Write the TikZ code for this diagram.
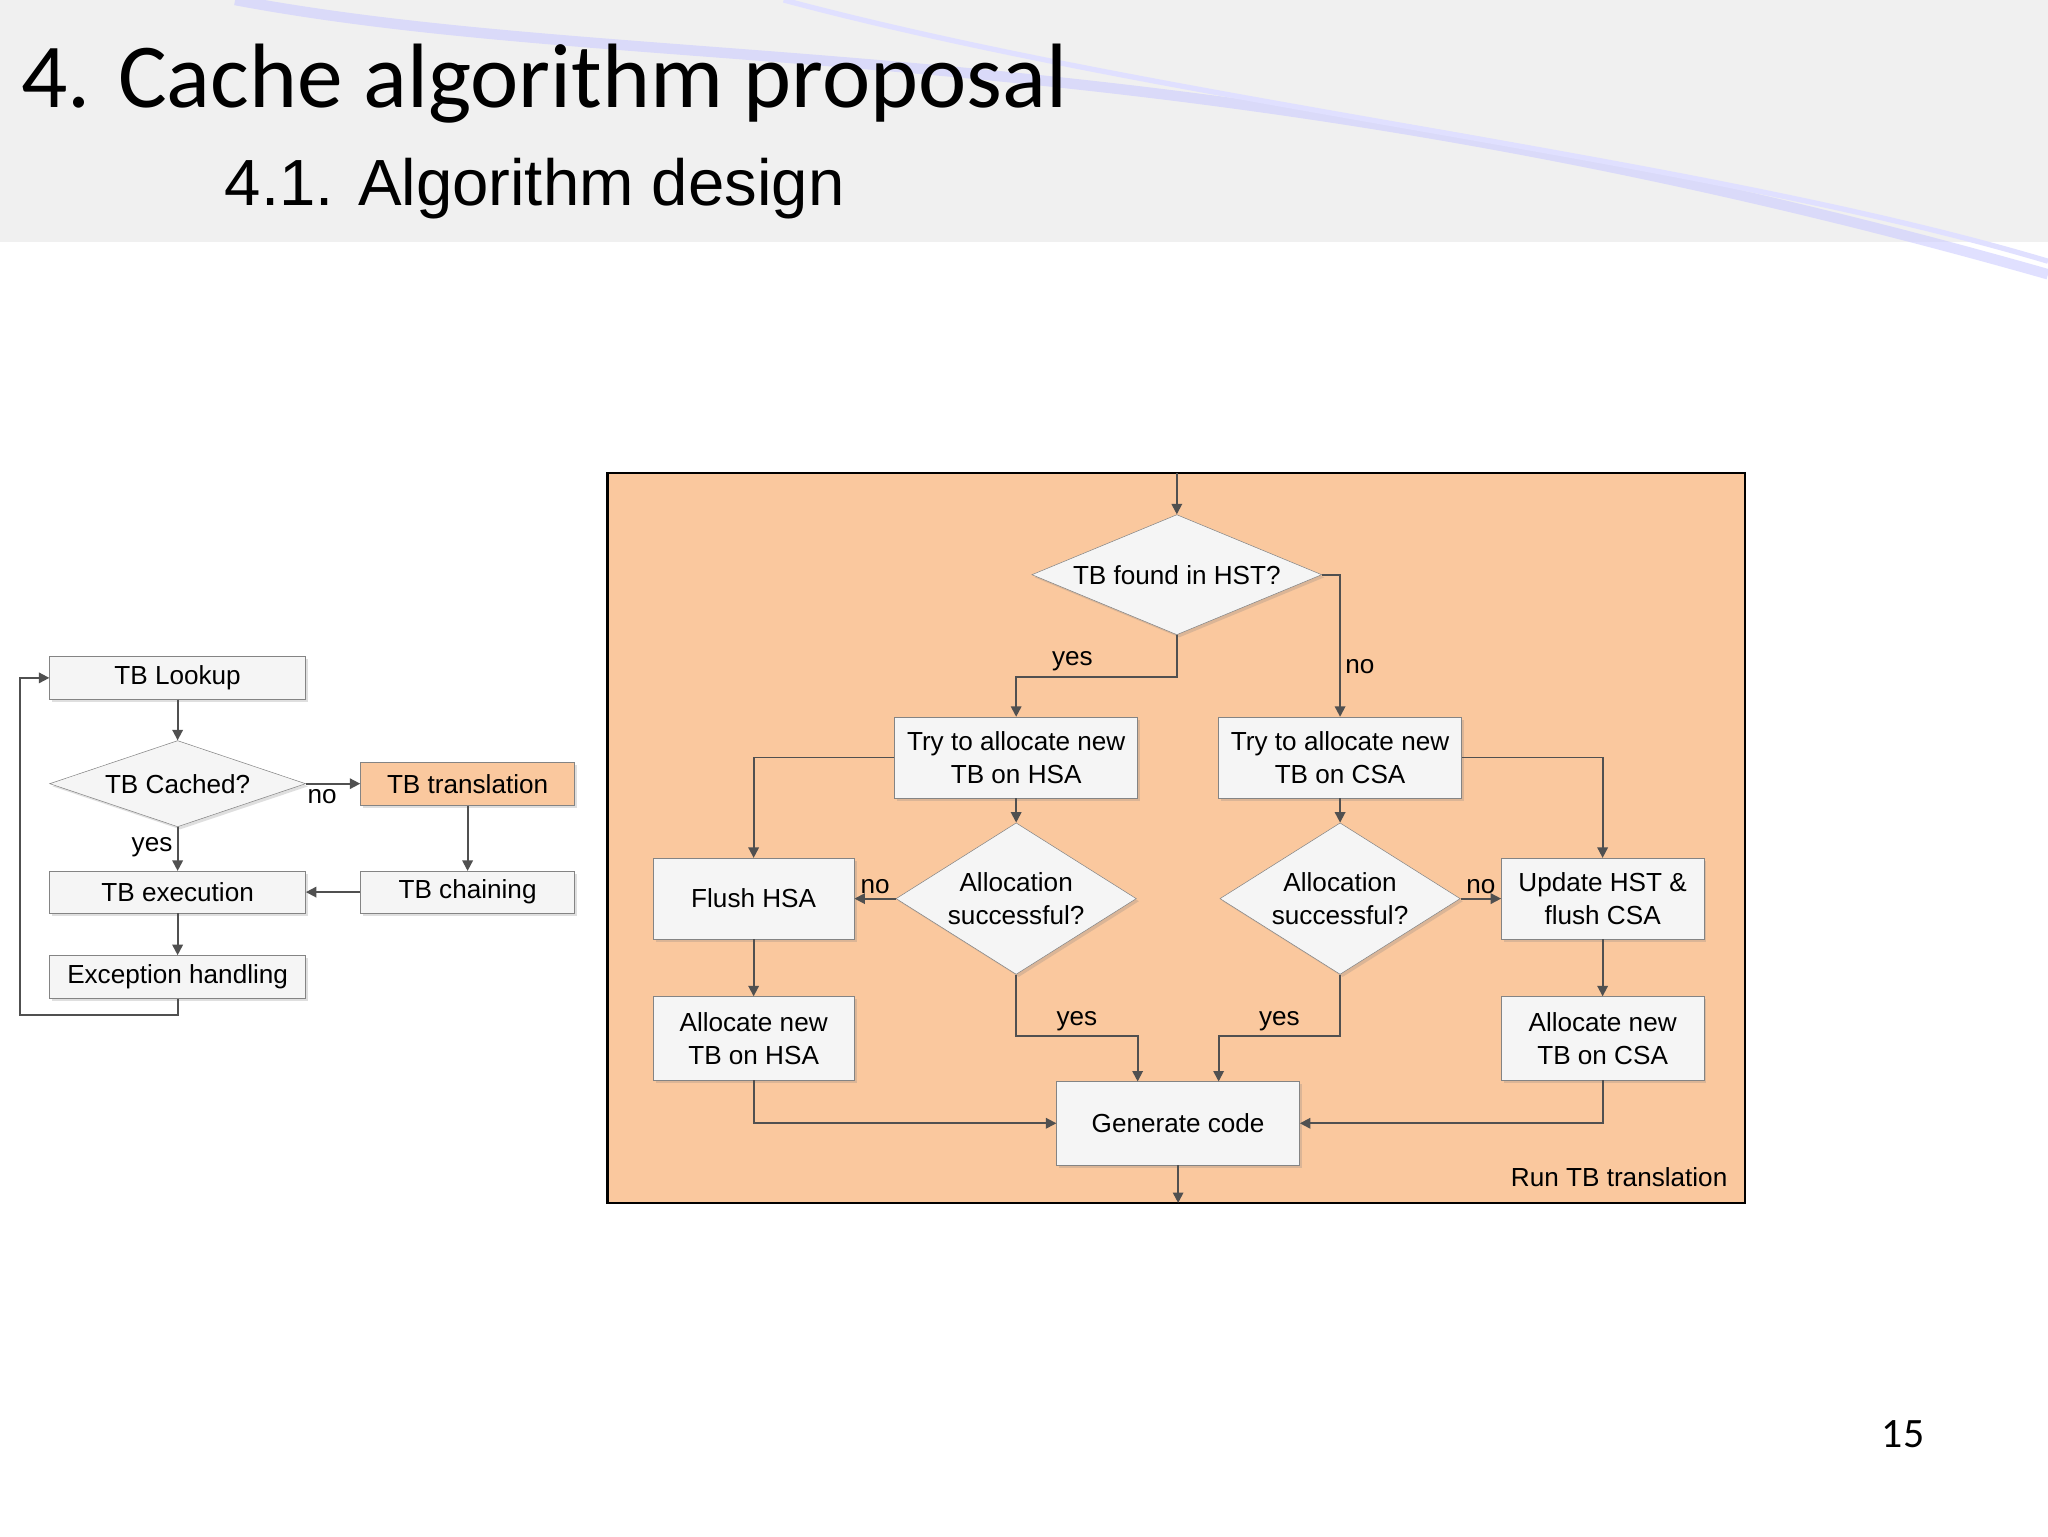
\documentclass[tikz,border=0pt]{standalone}
\usepackage{fontspec}
\setmainfont{Liberation Sans}
\newfontfamily\titlefont{Carlito}
\usetikzlibrary{shapes.geometric,shadows,arrows.meta}
\definecolor{peach}{RGB}{250,200,158}
\definecolor{boxfill}{RGB}{245,245,245}
\definecolor{lineclr}{RGB}{80,80,80}
\tikzset{
  blk/.style={draw=lineclr!70,fill=boxfill,align=center,inner sep=0pt,font=\fontsize{20}{25}\selectfont,drop shadow={opacity=0.25,shadow xshift=2pt,shadow yshift=-2pt}},
  dec/.style={blk,diamond,inner sep=0pt},
  arr/.style={draw=lineclr,line width=1.4pt,-{Triangle[length=8pt,width=8pt]}},
  ln/.style={draw=lineclr,line width=1.4pt},
  lbl/.style={font=\fontsize{20}{24}\selectfont}
}
\begin{document}
\begin{tikzpicture}[x=1pt,y=-1pt]
\useasboundingbox (0,0) rectangle (1568,1176);
\fill[white] (0,0) rectangle (1568,1176);
% header band
\fill[gray!12] (0,0) rectangle (1568,185);
\draw[blue!20,line width=8pt,opacity=0.6] (180,0) .. controls (500,60) and (900,20) .. (1568,210);
\draw[blue!12,line width=4pt] (600,0) .. controls (900,80) and (1300,120) .. (1568,200);
\node[anchor=base west,inner sep=0pt,font=\titlefont\fontsize{70}{80}\selectfont] (title) at (16,82) {4. Cache algorithm proposal};
\node[anchor=base west,inner sep=0pt,font=\fontsize{50}{60}\selectfont] (subtitle) at (172,157) {4.1. Algorithm design};
\node[font=\titlefont\fontsize{32}{36}\selectfont] (pagenum) at (1457,1098) {15};

% left flowchart
\node[blk,minimum width=196,minimum height=33] (lookup) at (136,519) {TB Lookup};
\node[dec,aspect=3,minimum width=196,minimum height=66] (cached) at (136,600) {TB Cached?};
\node[blk,fill=peach,minimum width=164,minimum height=33] (transl) at (358,600) {TB translation};
\node[blk,minimum width=196,minimum height=32] (exec) at (136,683) {TB execution};
\node[blk,minimum width=164,minimum height=32] (chain) at (358,683) {TB chaining};
\node[blk,minimum width=196,minimum height=33] (exc) at (136,748) {Exception handling};
\coordinate (loopA) at (136,777);
\coordinate (loopB) at (15,777);
\coordinate (loopC) at (15,519);
\draw[arr] (lookup) -- (cached);
\draw[arr] (cached) -- node[lbl,left,pos=0.45] {yes} (exec);
\draw[arr] (cached.east) -- node[lbl,below,pos=0.3] {no} (transl);
\draw[arr] (transl) -- (chain);
\draw[arr] (chain) -- (exec);
\draw[arr] (exec) -- (exc);
\draw[arr] (exc.south) -- (loopA) -- (loopB) -- (loopC) -- (lookup.west);

% right panel
\draw[fill=peach,line width=2pt] (465,362) rectangle (1336,921);
\node[lbl,anchor=south east] (run) at (1326,912) {Run TB translation};
\node[dec,aspect=2.4,minimum width=222,minimum height=92] (found) at (901,440) {TB found in HST?};
\node[blk,minimum width=186,minimum height=62] (tryh) at (778,580) {Try to allocate new\\TB on HSA};
\node[blk,minimum width=186,minimum height=62] (tryc) at (1026,580) {Try to allocate new\\TB on CSA};
\node[dec,aspect=1.59,minimum width=184,minimum height=116] (alh) at (778,688) {Allocation\\successful?};
\node[dec,aspect=1.59,minimum width=184,minimum height=116] (alc) at (1026,688) {Allocation\\successful?};
\node[blk,minimum width=154,minimum height=62] (flush) at (577,688) {Flush HSA};
\node[blk,minimum width=155,minimum height=62] (upd) at (1227,688) {Update HST \&\\flush CSA};
\node[blk,minimum width=154,minimum height=64] (newh) at (577,795) {Allocate new\\TB on HSA};
\node[blk,minimum width=155,minimum height=64] (newc) at (1227,795) {Allocate new\\TB on CSA};
\node[blk,minimum width=186,minimum height=64] (gen) at (902,860) {Generate code};
\coordinate (entry) at (901,362);
\coordinate (exit) at (902,921);
\draw[arr] (entry) -- (found.north);
\draw[arr] (found.south) -- (901,518) -- node[lbl,above,pos=0.65] {yes} (778,518) -- (tryh.north);
\draw[arr] (found.east) -- (1026,440) -- node[lbl,right,pos=0.65] {no} (tryc.north);
\draw[arr] (tryh.west) -- (577,580) -- (flush.north);
\draw[arr] (tryc.east) -- (1227,580) -- (upd.north);
\draw[arr] (tryh) -- (alh);
\draw[arr] (tryc) -- (alc);
\draw[arr] (alh.west) -- node[lbl,above] {no} (flush.east);
\draw[arr] (alc.east) -- node[lbl,above] {no} (upd.west);
\draw[arr] (flush) -- (newh);
\draw[arr] (upd) -- (newc);
\draw[arr] (alh.south) -- (778,793) -- node[lbl,above,pos=0.5] {yes} (871,793) -- (871,828);
\draw[arr] (alc.south) -- (1026,793) -- node[lbl,above,pos=0.5] {yes} (933,793) -- (933,828);
\draw[arr] (newh.south) -- (577,860) -- (gen.west);
\draw[arr] (newc.south) -- (1227,860) -- (gen.east);
\draw[arr] (gen.south) -- (exit);
\end{tikzpicture}
\end{document}
